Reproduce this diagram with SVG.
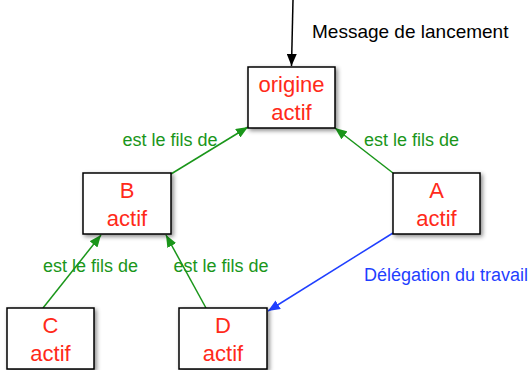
<svg xmlns="http://www.w3.org/2000/svg" width="531" height="370" viewBox="0 0 531 370">
<style>
.box{fill:#fff;stroke:#000;stroke-width:1.5;filter:url(#sh)}
.nt{font-family:"Liberation Sans",Arial,sans-serif;font-size:22px;fill:#ff2a1a;text-anchor:middle}
.lbl{font-family:"Liberation Sans",Arial,sans-serif;font-size:18px;fill:#1a961a;text-anchor:middle}
.g{stroke:#1a961a;stroke-width:1.5;fill:none;marker-end:url(#ag)}
.b{stroke:#1f3fff;stroke-width:1.5;fill:none;marker-end:url(#ab)}
.k{stroke:#000;stroke-width:1.5;fill:none;marker-end:url(#ak)}
</style>
<defs>
<filter id="sh" x="-20%" y="-20%" width="150%" height="150%">
<feDropShadow dx="2" dy="2" stdDeviation="2" flood-color="#000" flood-opacity="0.45"/>
</filter>
<marker id="ag" viewBox="0 0 12 10" refX="12" refY="5" markerWidth="12" markerHeight="10" markerUnits="userSpaceOnUse" orient="auto"><path d="M0,0 L12,5 L0,10 Z" fill="#1a961a"/></marker>
<marker id="ab" viewBox="0 0 12 10" refX="12" refY="5" markerWidth="12" markerHeight="10" markerUnits="userSpaceOnUse" orient="auto"><path d="M0,0 L12,5 L0,10 Z" fill="#1f3fff"/></marker>
<marker id="ak" viewBox="0 0 12 10" refX="12" refY="5" markerWidth="12" markerHeight="10" markerUnits="userSpaceOnUse" orient="auto"><path d="M0,0 L12,5 L0,10 Z" fill="#000"/></marker>
</defs>
<rect width="531" height="370" fill="#fff"/>
<g id="connectors">
<line class="k" x1="293" y1="0" x2="291.5" y2="66"/>
<line class="g" x1="171" y1="174" x2="248" y2="127"/>
<line class="g" x1="393" y1="173" x2="335" y2="128"/>
<line class="g" x1="43" y1="308" x2="101" y2="235"/>
<line class="g" x1="206" y1="308" x2="166" y2="235"/>
<line class="b" x1="393" y1="233" x2="268" y2="311"/>
<text x="312" y="38" font-family="Liberation Sans,Arial,sans-serif" font-size="19" fill="#000">Message de lancement</text>
<text class="lbl" x="170" y="146">est le fils de</text>
<text class="lbl" x="411.5" y="146">est le fils de</text>
<text class="lbl" x="90.5" y="272">est le fils de</text>
<text class="lbl" x="221" y="272">est le fils de</text>
<text x="364" y="281" font-family="Liberation Sans,Arial,sans-serif" font-size="18" fill="#1f3fff">Délégation du travail</text>
</g>
<g id="origine">
<rect class="box" x="248" y="67" width="87" height="61"/>
<text class="nt" x="291.5" y="92">origine</text>
<text class="nt" x="291.5" y="120">actif</text>
</g>
<g id="B">
<rect class="box" x="83" y="173" width="88" height="61"/>
<text class="nt" x="127" y="198">B</text>
<text class="nt" x="127" y="226">actif</text>
</g>
<g id="A">
<rect class="box" x="393" y="173" width="87" height="61"/>
<text class="nt" x="436.5" y="198">A</text>
<text class="nt" x="436.5" y="226">actif</text>
</g>
<g id="C">
<rect class="box" x="7" y="308" width="87" height="61"/>
<text class="nt" x="50.5" y="333">C</text>
<text class="nt" x="50.5" y="361">actif</text>
</g>
<g id="D">
<rect class="box" x="179" y="308" width="88" height="61"/>
<text class="nt" x="223" y="333">D</text>
<text class="nt" x="223" y="361">actif</text>
</g>
</svg>
